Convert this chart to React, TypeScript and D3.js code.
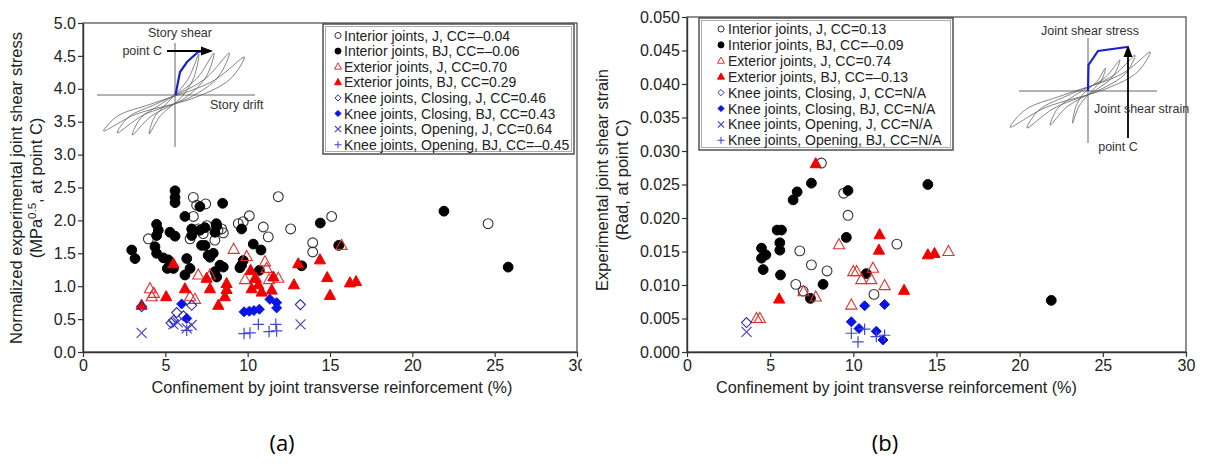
import * as d3 from "d3";
import { useEffect, useRef } from "react";

type Pt = [number, number];

const FONT = "'Liberation Sans', Arial, Helvetica, sans-serif";

// ---- panel (a): normalized joint shear stress at point C ----
const stressIntJ: Pt[] = [
  [6.7, 2.35], [6.9, 2.23], [7.45, 2.25], [6.7, 2.06], [3.97, 1.72], [6.5, 1.72], [7.0, 1.87],
  [7.51, 1.92], [8.01, 1.7], [8.42, 1.87], [8.52, 1.81], [9.43, 1.95], [9.73, 1.98], [10.1, 2.07],
  [11.86, 2.36], [10.95, 1.9], [11.25, 1.75], [12.61, 1.87], [13.95, 1.66], [13.95, 1.52],
  [15.1, 2.06], [24.6, 1.95], [8.2, 1.85], [7.3, 1.8],
];
const stressIntBJ: Pt[] = [
  [5.59, 2.45], [5.59, 2.35], [5.59, 2.27], [7.1, 2.21], [8.48, 2.26], [6.19, 2.06], [4.47, 1.94],
  [4.57, 1.85], [4.47, 1.77], [5.28, 1.82], [5.59, 1.76], [6.6, 1.87], [6.6, 1.77], [7.41, 1.89],
  [8.01, 1.82], [8.12, 1.92], [9.63, 1.87], [7.41, 1.62], [2.96, 1.55], [3.16, 1.42], [4.37, 1.6],
  [4.47, 1.5], [4.88, 1.43], [5.18, 1.4], [5.12, 1.27], [5.49, 1.27], [6.3, 1.42], [6.5, 1.27],
  [6.19, 1.17], [7.71, 1.44], [7.91, 1.5], [8.32, 1.32], [8.52, 1.29], [8.01, 1.22], [8.12, 1.14],
  [9.63, 1.32], [9.53, 1.28], [10.34, 1.64], [10.81, 1.55], [9.73, 1.39], [10.71, 1.24],
  [14.41, 1.96], [13.28, 1.31], [15.53, 1.62], [21.92, 2.14], [25.82, 1.29], [7.2, 1.62],
  [7.6, 1.47], [7.1, 1.85], [8.1, 1.95],
];
const stressExtJ: Pt[] = [
  [4.07, 0.96], [4.17, 0.84], [4.3, 0.89], [6.5, 0.84], [6.8, 0.8], [7.0, 1.17], [7.71, 1.17],
  [9.15, 1.56], [9.94, 1.45], [9.84, 1.1], [11.05, 1.37], [11.15, 1.27], [11.86, 1.12],
  [11.3, 1.1], [10.5, 1.12], [15.7, 1.62],
];
const stressExtBJ: Pt[] = [
  [5.49, 1.34], [5.05, 0.84], [6.19, 0.96], [7.51, 1.12], [7.71, 0.96], [8.22, 0.71], [8.72, 1.04],
  [8.62, 0.84], [8.72, 0.95], [3.56, 0.71], [10.18, 1.24], [10.44, 1.12], [10.24, 0.96],
  [10.65, 1.02], [10.85, 0.91], [11.46, 0.94], [11.56, 1.14], [12.81, 1.02], [13.07, 1.34],
  [14.39, 1.4], [14.83, 1.13], [15.0, 0.86], [16.21, 1.05], [16.58, 1.07],
];
const stressKneeCJ: Pt[] = [[3.56, 0.69], [6.6, 0.71], [5.69, 0.6], [5.49, 0.48], [5.35, 0.44], [6.1, 0.55], [13.2, 0.72]];
const stressKneeCBJ: Pt[] = [
  [5.99, 0.73], [6.3, 0.51], [9.78, 0.61], [10.1, 0.62], [10.38, 0.63], [10.71, 0.65],
  [11.35, 0.8], [11.76, 0.75], [11.76, 0.67],
];
const stressKneeOJ: Pt[] = [[3.56, 0.29], [5.49, 0.42], [5.75, 0.45], [6.6, 0.41], [6.3, 0.36], [13.21, 0.42]];
const stressKneeOBJ: Pt[] = [[6.3, 0.33], [9.78, 0.28], [10.14, 0.29], [10.65, 0.42], [11.3, 0.31], [11.71, 0.42], [11.76, 0.32]];

const stressLegend = [
  "Interior joints, J, CC=\u20130.04",
  "Interior joints, BJ, CC=\u20130.06",
  "Exterior joints, J, CC=0.70",
  "Exterior joints, BJ, CC=0.29",
  "Knee joints, Closing, J, CC=0.46",
  "Knee joints, Closing, BJ, CC=0.43",
  "Knee joints, Opening, J, CC=0.64",
  "Knee joints, Opening, BJ, CC=\u20130.45",
];
const stressTicks = d3.range(0, 5.01, 0.5);

// ---- panel (b): joint shear strain at point C ----
const strainIntJ: Pt[] = [
  [8.08, 0.0282], [9.42, 0.0237], [9.68, 0.0204], [6.78, 0.0151], [7.48, 0.013], [8.42, 0.0121],
  [6.54, 0.0101], [6.98, 0.0091], [11.24, 0.0086], [12.62, 0.0161],
];
const strainIntBJ: Pt[] = [
  [7.48, 0.0252], [6.62, 0.0239], [6.38, 0.0227], [9.68, 0.0241], [5.42, 0.0182], [5.68, 0.0182],
  [4.48, 0.0155], [4.74, 0.0145], [4.48, 0.014], [5.58, 0.0163], [5.58, 0.0152], [4.58, 0.0123],
  [5.62, 0.0115], [9.58, 0.0171], [8.18, 0.0101], [7.42, 0.008], [10.78, 0.0117], [14.48, 0.025],
  [21.9, 0.0077],
];
const strainExtJ: Pt[] = [
  [9.14, 0.016], [10.0, 0.012], [10.2, 0.012], [10.48, 0.0108], [11.08, 0.0108], [11.18, 0.0125],
  [11.88, 0.0099], [9.88, 0.007], [4.18, 0.005], [4.38, 0.005], [7.74, 0.0082], [7.0, 0.009],
  [15.72, 0.015],
];
const strainExtBJ: Pt[] = [
  [7.74, 0.0281], [5.54, 0.0079], [11.58, 0.0175], [11.54, 0.0152], [13.05, 0.0092],
  [14.48, 0.0145], [14.88, 0.0147],
];
const strainKneeCJ: Pt[] = [[3.58, 0.0044]];
const strainKneeCBJ: Pt[] = [[9.88, 0.0045], [10.34, 0.0035], [10.68, 0.0069], [11.88, 0.0071], [11.38, 0.0031], [11.78, 0.0018]];
const strainKneeOJ: Pt[] = [[3.58, 0.003]];
const strainKneeOBJ: Pt[] = [[9.88, 0.0028], [10.28, 0.0015], [10.68, 0.0034], [11.38, 0.0023], [11.88, 0.0025]];

const strainLegend = [
  "Interior joints, J, CC=0.13",
  "Interior joints, BJ, CC=\u20130.09",
  "Exterior joints, J, CC=0.74",
  "Exterior joints, BJ, CC=\u20130.13",
  "Knee joints, Closing, J, CC=N/A",
  "Knee joints, Closing, BJ, CC=N/A",
  "Knee joints, Opening, J, CC=N/A",
  "Knee joints, Opening, BJ, CC=N/A",
];
const strainTicks = d3.range(0, 0.0501, 0.005);

const xTicks = [0, 5, 10, 15, 20, 25, 30];

// hysteresis sketches: normalized peaks [drift, force] of each cycle
const loopsA = { pos: [[0.31, 0.94], [0.5, 0.96], [0.69, 0.96], [0.88, 0.88]], neg: [[-0.31, -0.66], [-0.52, -0.68], [-0.71, -0.64], [-0.88, -0.6]] };
const loopsB = { pos: [[0.23, 0.6], [0.41, 0.8], [0.6, 0.92], [0.79, 1.0]], neg: [[-0.18, -0.78], [-0.46, -0.83], [-0.75, -0.9], [-0.96, -0.88]] };

// marker styles in legend order
const MARKERS = [
  { kind: "circle", fill: "none", stroke: "#333", sw: 1.1 },
  { kind: "circle", fill: "#000", stroke: "#000", sw: 1 },
  { kind: "tri", fill: "none", stroke: "#e23030", sw: 1.1 },
  { kind: "tri", fill: "#f00000", stroke: "#f00000", sw: 1 },
  { kind: "diamond", fill: "none", stroke: "#2b2ba5", sw: 1.1 },
  { kind: "diamond", fill: "#0a14e6", stroke: "#0a14e6", sw: 1 },
  { kind: "times", fill: "none", stroke: "#4646cc", sw: 1.2 },
  { kind: "plus", fill: "none", stroke: "#4646cc", sw: 1.2 },
];

const markerPath = (kind: string, s: number) => {
  switch (kind) {
    case "circle": return `M${-s},0a${s},${s} 0 1,0 ${2 * s},0a${s},${s} 0 1,0 ${-2 * s},0Z`;
    case "tri": return `M0,${-s * 1.15}L${s * 1.05},${s * 0.75}L${-s * 1.05},${s * 0.75}Z`;
    case "diamond": return `M0,${-s}L${s},0L0,${s}L${-s},0Z`;
    case "times": return `M${-s},${-s}L${s},${s}M${-s},${s}L${s},${-s}`;
    default: return `M${-s * 1.15},0L${s * 1.15},0M0,${-s * 1.15}L0,${s * 1.15}`;
  }
};
const MARK_SIZE: Record<string, number> = { circle: 4.9, tri: 5.3, diamond: 5, times: 5, plus: 5 };

function drawLoops(g: any, loops: any, cx: number, cy: number, hx: number, hy: number) {
  const sx = d3.scaleLinear().domain([-1, 1]).range([cx - hx, cx + hx]);
  const sy = d3.scaleLinear().domain([-1, 1]).range([cy + hy, cy - hy]);
  const line = d3.line<number[]>().x((d) => sx(d[0])).y((d) => sy(d[1])).curve(d3.curveCatmullRomClosed.alpha(0.5));
  loops.pos.forEach((p: number[], i: number) => {
    const n = loops.neg[i];
    const pts = [
      p, [p[0] * 0.8, p[1] * 0.5], [p[0] * 0.3, p[1] * 0.08], [n[0] * 0.55, n[1] * 0.45],
      n, [n[0] * 0.8, n[1] * 0.5], [n[0] * 0.3, n[1] * 0.08], [p[0] * 0.55, p[1] * 0.45],
    ];
    g.append("path").attr("d", line(pts)).attr("fill", "none").attr("stroke", "#666").attr("stroke-width", 0.8);
  });
}

function drawPanel(svg: any, cfg: any) {
  const g = svg.append("g");
  if (cfg.clip) g.attr("clip-path", `url(#${cfg.clip})`);
  const x = d3.scaleLinear().domain([0, 30]).range([cfg.left, cfg.right]);
  const y = d3.scaleLinear().domain([0, cfg.ymax]).range([cfg.bottom, cfg.top]);

  // frame
  g.append("rect")
    .attr("x", cfg.left).attr("y", cfg.top)
    .attr("width", cfg.right - cfg.left).attr("height", cfg.bottom - cfg.top)
    .attr("fill", "none").attr("stroke", "#555").attr("stroke-width", 1.3);

  // axes
  const ya = g.append("g").attr("transform", `translate(${cfg.left},0)`)
    .call(d3.axisLeft(y).tickValues(cfg.yticks).tickFormat(d3.format(cfg.yfmt)).tickSize(5).tickSizeOuter(0).tickPadding(2));
  const xa = g.append("g").attr("transform", `translate(0,${cfg.bottom})`)
    .call(d3.axisBottom(x).tickValues(xTicks).tickFormat(d3.format("d")).tickSize(5).tickSizeOuter(0).tickPadding(3));
  [ya, xa].forEach((a) => {
    a.select(".domain").attr("stroke", "#333").attr("stroke-width", 1.4);
    a.selectAll(".tick line").attr("stroke", "#333").attr("stroke-width", 1.2);
    a.selectAll(".tick text").attr("fill", "#222").style("font-family", FONT).style("font-size", "16px");
  });

  // axis titles
  g.append("text")
    .attr("x", (cfg.left + cfg.right) / 2 + cfg.xlabDx).attr("y", 393)
    .attr("text-anchor", "middle").style("font-family", FONT).style("font-size", "16.2px").attr("fill", "#222")
    .text("Confinement by joint transverse reinforcement (%)");
  const yl = g.append("text")
    .attr("transform", `translate(${cfg.ylabX},${cfg.ylabY}) rotate(-90)`)
    .attr("text-anchor", "middle").style("font-family", FONT).style("font-size", "16.5px").attr("fill", "#222");
  yl.append("tspan").attr("x", 0).attr("dy", 0).text(cfg.ylab1);
  const l2 = yl.append("tspan").attr("x", 0).attr("dy", 20);
  if (cfg.sup) {
    l2.text(cfg.ylab2[0]);
    yl.append("tspan").attr("dy", -6).style("font-size", "11.5px").text(cfg.sup);
    yl.append("tspan").attr("dy", 6).text(cfg.ylab2[1]);
  } else {
    l2.text(cfg.ylab2);
  }

  // inset sketch
  const ins = cfg.inset;
  const ig = g.append("g");
  drawLoops(ig, ins.loops, ins.cx, ins.cy, ins.hx, ins.hy);
  ig.append("line").attr("x1", ins.ax0).attr("x2", ins.ax1).attr("y1", ins.ay).attr("y2", ins.ay).attr("stroke", "#555").attr("stroke-width", 0.9);
  ig.append("line").attr("x1", ins.vx).attr("x2", ins.vx).attr("y1", ins.vy0).attr("y2", ins.vy1).attr("stroke", "#555").attr("stroke-width", 0.9);
  ig.append("path").attr("d", d3.line()(ins.blue)).attr("fill", "none").attr("stroke", "#1a22d0").attr("stroke-width", 2.2);
  const [a0, a1] = ins.arrow;
  ig.append("line").attr("x1", a0[0]).attr("y1", a0[1]).attr("x2", a1[0]).attr("y2", a1[1]).attr("stroke", "#000").attr("stroke-width", 1.8);
  const ang = Math.atan2(a1[1] - a0[1], a1[0] - a0[0]);
  const hl = 10, hw = 4.5;
  const hp = [
    [a1[0] + 2 * Math.cos(ang), a1[1] + 2 * Math.sin(ang)],
    [a1[0] - hl * Math.cos(ang) - hw * Math.sin(ang), a1[1] - hl * Math.sin(ang) + hw * Math.cos(ang)],
    [a1[0] - hl * Math.cos(ang) + hw * Math.sin(ang), a1[1] - hl * Math.sin(ang) - hw * Math.cos(ang)],
  ];
  ig.append("path").attr("d", `M${hp.map((p) => p.join(",")).join("L")}Z`).attr("fill", "#000");
  ins.labels.forEach((t: any) => {
    ig.append("text").attr("x", t.x).attr("y", t.y).attr("text-anchor", t.anchor)
      .attr("dominant-baseline", "central")
      .style("font-family", FONT).style("font-size", "12.5px").attr("fill", "#333").text(t.text);
  });

  // points
  cfg.series.forEach((pts: Pt[], i: number) => {
    const m = MARKERS[i];
    g.append("g").selectAll("path").data(pts).join("path")
      .attr("transform", (d: Pt) => `translate(${x(d[0])},${y(d[1])})`)
      .attr("d", markerPath(m.kind, MARK_SIZE[m.kind]))
      .attr("fill", m.fill).attr("stroke", m.stroke).attr("stroke-width", m.sw);
  });

  // legend
  const L = cfg.legend;
  const lg = g.append("g");
  lg.append("rect").attr("x", L.x).attr("y", L.y).attr("width", L.w).attr("height", L.h)
    .attr("fill", "#fff").attr("stroke", "#444").attr("stroke-width", 1.4);
  lg.append("rect").attr("x", L.x + 2.5).attr("y", L.y + 2.5).attr("width", L.w - 5).attr("height", L.h - 5)
    .attr("fill", "none").attr("stroke", "#999").attr("stroke-width", 0.8);
  L.items.forEach((txt: string, i: number) => {
    const m = MARKERS[i];
    const cy = L.row0 + i * L.step;
    lg.append("path").attr("transform", `translate(${L.sx},${cy})`)
      .attr("d", markerPath(m.kind, MARK_SIZE[m.kind] * 0.62))
      .attr("fill", m.fill).attr("stroke", m.stroke).attr("stroke-width", m.sw * 0.9);
    lg.append("text").attr("x", L.tx).attr("y", cy).attr("dominant-baseline", "central")
      .style("font-family", FONT).style("font-size", "14px").attr("fill", "#222").text(txt);
  });
}

export default function App() {
  const svgRef = useRef<SVGSVGElement>(null);

  useEffect(() => {
    const svg = d3.select(svgRef.current);
    svg.selectAll("*").remove();
    svg.append("defs").append("clipPath").attr("id", "clipA")
      .append("rect").attr("x", 0).attr("y", 0).attr("width", 582).attr("height", 466);

    drawPanel(svg, {
      clip: "clipA",
      left: 83, right: 577, top: 23, bottom: 352, ymax: 5,
      yticks: stressTicks, yfmt: ".1f",
      ylabX: 22, ylabY: 188, xlabDx: 2,
      ylab1: "Normalized experimental joint shear stress",
      ylab2: ["(MPa", ", at point C)"], sup: "0.5",
      series: [stressIntJ, stressIntBJ, stressExtJ, stressExtBJ, stressKneeCJ, stressKneeCBJ, stressKneeOJ, stressKneeOBJ],
      legend: { x: 323, y: 24, w: 251, h: 130, row0: 35.5, step: 15.6, sx: 338, tx: 344, items: stressLegend },
      inset: {
        loops: loopsA, cx: 174, cy: 101, hx: 80, hy: 50,
        ax0: 97, ax1: 255, ay: 95, vx: 175, vy0: 43, vy1: 147,
        blue: [[175.5, 95], [180, 72], [187, 62], [198, 52], [207, 51]],
        arrow: [[167, 51], [211, 51]],
        labels: [
          { x: 180, y: 33, anchor: "middle", text: "Story shear" },
          { x: 162, y: 51, anchor: "end", text: "point C" },
          { x: 210, y: 105, anchor: "start", text: "Story drift" },
        ],
      },
    });

    drawPanel(svg, {
      left: 687, right: 1186, top: 17, bottom: 352, ymax: 0.05,
      yticks: strainTicks, yfmt: ".3f",
      ylabX: 608, ylabY: 180, xlabDx: -40,
      ylab1: "Experimental joint shear strain",
      ylab2: "(Rad, at point C)",
      series: [strainIntJ, strainIntBJ, strainExtJ, strainExtBJ, strainKneeCJ, strainKneeCBJ, strainKneeOJ, strainKneeOBJ],
      legend: { x: 699, y: 18, w: 254, h: 132, row0: 29, step: 15.9, sx: 721, tx: 728, items: strainLegend },
      inset: {
        loops: loopsB, cx: 1087, cy: 92, hx: 80, hy: 40,
        ax0: 1019, ax1: 1157, ay: 91, vx: 1088, vy0: 38, vy1: 143,
        blue: [[1088, 91], [1088.5, 65], [1098, 51], [1127, 47]],
        arrow: [[1128, 138], [1128, 47]],
        labels: [
          { x: 1090, y: 31, anchor: "middle", text: "Joint shear stress" },
          { x: 1094, y: 109, anchor: "start", text: "Joint shear strain" },
          { x: 1118, y: 147, anchor: "middle", text: "point C" },
        ],
      },
    });

    ["(a)", "(b)"].forEach((t, i) => {
      svg.append("text").attr("x", i === 0 ? 282 : 885).attr("y", 442)
        .attr("text-anchor", "middle").attr("dominant-baseline", "central")
        .style("font-family", "'Open Sans', 'Noto Sans', sans-serif").style("font-size", "22px")
        .attr("fill", "#000").text(t);
    });
  }, []);

  return (
    <div style={{ position: "fixed", left: 0, top: 0 }}>
      <svg ref={svgRef} width={1206} height={466} style={{ display: "block", background: "#fff" }} />
    </div>
  );
}
